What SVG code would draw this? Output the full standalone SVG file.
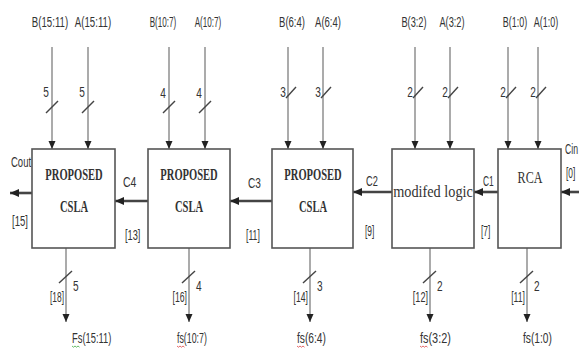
<svg xmlns="http://www.w3.org/2000/svg" width="579" height="354" viewBox="0 0 579 354">
<defs>
<marker id="ah" markerUnits="userSpaceOnUse" markerWidth="8" markerHeight="8" viewBox="0 0 8 8" refX="8" refY="4" orient="auto"><path d="M0,0.5 L8,4 L0,7.5 Z" fill="#222"/></marker>
<marker id="ahb" markerUnits="userSpaceOnUse" markerWidth="9" markerHeight="9" viewBox="0 0 9 9" refX="9" refY="4.5" orient="auto"><path d="M0,0.5 L9,4.5 L0,8.5 Z" fill="#222"/></marker>
</defs>
<style>
.box{fill:#fff;stroke:#555;stroke-width:1.6}
.in{stroke:#666;stroke-width:1.1;fill:none;marker-end:url(#ah)}
.out{stroke:#666;stroke-width:1.1;fill:none;marker-end:url(#ah)}
.sl{stroke:#444;stroke-width:1.4;fill:none}
.car{stroke:#444;stroke-width:2.6;fill:none;marker-end:url(#ahb)}
.lb{font-family:"Liberation Sans",Arial,sans-serif;font-size:14px;fill:#333}
.bt{font-family:"Liberation Serif","Times New Roman",serif;font-size:17px;font-weight:bold;fill:#333;text-anchor:middle}
.bn{font-family:"Liberation Serif","Times New Roman",serif;font-size:17px;fill:#333;text-anchor:middle}
.m{text-anchor:middle}
.e{text-anchor:end}
.sq{fill:none;stroke-width:0.8}
</style>
<rect width="579" height="354" fill="#fff"/>
<g id="connectors">
<line class="in" x1="52" y1="47" x2="52" y2="149"/>
<line class="in" x1="88" y1="47" x2="88" y2="149"/>
<line class="in" x1="169" y1="47" x2="169" y2="149"/>
<line class="in" x1="205" y1="47" x2="205" y2="149"/>
<line class="in" x1="288" y1="47" x2="288" y2="149"/>
<line class="in" x1="323" y1="47" x2="323" y2="149"/>
<line class="in" x1="415" y1="47" x2="415" y2="149"/>
<line class="in" x1="450" y1="47" x2="450" y2="149"/>
<line class="in" x1="508" y1="47" x2="508" y2="149"/>
<line class="in" x1="538" y1="47" x2="538" y2="149"/>
<line class="sl" x1="46" y1="113" x2="58" y2="101"/>
<line class="sl" x1="82" y1="113" x2="94" y2="101"/>
<line class="sl" x1="163" y1="113" x2="175" y2="101"/>
<line class="sl" x1="199" y1="113" x2="211" y2="101"/>
<line class="sl" x1="286" y1="98" x2="296" y2="87"/>
<line class="sl" x1="321" y1="98" x2="331" y2="87"/>
<line class="sl" x1="413" y1="98" x2="423" y2="87"/>
<line class="sl" x1="448" y1="98" x2="458" y2="87"/>
<line class="sl" x1="506" y1="98" x2="516" y2="87"/>
<line class="sl" x1="536" y1="98" x2="546" y2="87"/>
<line class="out" x1="66" y1="248" x2="66" y2="322"/>
<line class="out" x1="189" y1="248" x2="189" y2="322"/>
<line class="out" x1="310" y1="248" x2="310" y2="322"/>
<line class="out" x1="430" y1="248" x2="430" y2="322"/>
<line class="out" x1="527" y1="248" x2="527" y2="322"/>
<line class="sl" x1="59" y1="283" x2="72" y2="271"/>
<line class="sl" x1="182" y1="283" x2="195" y2="271"/>
<line class="sl" x1="303" y1="283" x2="316" y2="271"/>
<line class="sl" x1="423" y1="283" x2="436" y2="271"/>
<line class="sl" x1="520" y1="283" x2="533" y2="271"/>
<line class="car" x1="32" y1="193" x2="10" y2="193"/>
<line class="car" x1="148" y1="201" x2="115" y2="201"/>
<line class="car" x1="272" y1="201" x2="230" y2="201"/>
<line class="car" x1="392" y1="192" x2="353" y2="192"/>
<line class="car" x1="498" y1="192" x2="474" y2="192"/>
<line class="car" x1="581" y1="192" x2="561" y2="192"/>
</g>
<g id="labels">
<text class="lb m" transform="translate(50,27) scale(0.69,1)">B(15:11)</text>
<text class="lb m" transform="translate(93,27) scale(0.69,1)">A(15:11)</text>
<text class="lb m" transform="translate(163,27) scale(0.58,1)">B(10:7)</text>
<text class="lb m" transform="translate(208,27) scale(0.58,1)">A(10:7)</text>
<text class="lb m" transform="translate(292,27) scale(0.68,1)">B(6:4)</text>
<text class="lb m" transform="translate(328,27) scale(0.68,1)">A(6:4)</text>
<text class="lb m" transform="translate(414,27) scale(0.66,1)">B(3:2)</text>
<text class="lb m" transform="translate(452,27) scale(0.66,1)">A(3:2)</text>
<text class="lb m" transform="translate(515,27) scale(0.64,1)">B(1:0)</text>
<text class="lb m" transform="translate(546,27) scale(0.64,1)">A(1:0)</text>
<text class="lb m" transform="translate(46,97) scale(0.72,1)">5</text>
<text class="lb m" transform="translate(82,97) scale(0.72,1)">5</text>
<text class="lb m" transform="translate(163,98) scale(0.72,1)">4</text>
<text class="lb m" transform="translate(199,98) scale(0.72,1)">4</text>
<text class="lb m" transform="translate(283,97) scale(0.72,1)">3</text>
<text class="lb m" transform="translate(318,97) scale(0.72,1)">3</text>
<text class="lb m" transform="translate(410,97) scale(0.72,1)">2</text>
<text class="lb m" transform="translate(445,97) scale(0.72,1)">2</text>
<text class="lb m" transform="translate(503,97) scale(0.72,1)">2</text>
<text class="lb m" transform="translate(533,97) scale(0.72,1)">2</text>
<text class="lb" transform="translate(11,167) scale(0.68,1)">Cout</text>
<text class="lb" transform="translate(12,226) scale(0.68,1)">[15]</text>
<text class="lb" transform="translate(123,187) scale(0.75,1)">C4</text>
<text class="lb" transform="translate(125,240) scale(0.66,1)">[13]</text>
<text class="lb" transform="translate(248,188) scale(0.72,1)">C3</text>
<text class="lb" transform="translate(246,240) scale(0.62,1)">[11]</text>
<text class="lb" transform="translate(366,186) scale(0.66,1)">C2</text>
<text class="lb" transform="translate(365,236) scale(0.6,1)">[9]</text>
<text class="lb" transform="translate(483,186) scale(0.6,1)">C1</text>
<text class="lb" transform="translate(481,236) scale(0.6,1)">[7]</text>
<text class="lb" transform="translate(565,154) scale(0.62,1)">Cin</text>
<text class="lb" transform="translate(566,178) scale(0.6,1)">[0]</text>
<text class="lb" transform="translate(73,291) scale(0.72,1)">5</text>
<text class="lb" transform="translate(196,291) scale(0.72,1)">4</text>
<text class="lb" transform="translate(317,291) scale(0.72,1)">3</text>
<text class="lb" transform="translate(437,291) scale(0.72,1)">2</text>
<text class="lb" transform="translate(534,291) scale(0.72,1)">2</text>
<text class="lb e" transform="translate(64,302) scale(0.6,1)">[18]</text>
<text class="lb e" transform="translate(187,302) scale(0.62,1)">[16]</text>
<text class="lb e" transform="translate(308,302) scale(0.62,1)">[14]</text>
<text class="lb e" transform="translate(428,302) scale(0.65,1)">[12]</text>
<text class="lb e" transform="translate(525,302) scale(0.62,1)">[11]</text>
<text class="lb" transform="translate(72,343) scale(0.67,1)">Fs(15:11)</text>
<text class="lb" transform="translate(177,343) scale(0.63,1)">fs(10:7)</text>
<text class="lb" transform="translate(297,343) scale(0.73,1)">fs(6:4)</text>
<text class="lb" transform="translate(420,343) scale(0.78,1)">fs(3:2)</text>
<text class="lb" transform="translate(523,343) scale(0.73,1)">fs(1:0)</text>
<path class="sq" stroke="#4a4" d="M72,346 l1.5,1.2 l1.5,-1.2 l1.5,1.2 l1.5,-1.2 l1.5,1.2"/>
<path class="sq" stroke="#d44" d="M177,346 l1.5,1.2 l1.5,-1.2 l1.5,1.2 l1.5,-1.2 l1.5,1.2"/>
<path class="sq" stroke="#d44" d="M297,346 l1.5,1.2 l1.5,-1.2 l1.5,1.2 l1.5,-1.2 l1.5,1.2"/>
<path class="sq" stroke="#d44" d="M420,346 l1.5,1.2 l1.5,-1.2 l1.5,1.2 l1.5,-1.2 l1.5,1.2"/>
</g>
<g id="node-csla-15-11">
<rect class="box" x="32" y="149" width="83" height="99"/>
<text class="bt" transform="translate(74,180) scale(0.62,1)">PROPOSED</text>
<text class="bt" transform="translate(74,212) scale(0.62,1)">CSLA</text>
</g>
<g id="node-csla-10-7">
<rect class="box" x="148" y="149" width="82" height="99"/>
<text class="bt" transform="translate(189,180) scale(0.62,1)">PROPOSED</text>
<text class="bt" transform="translate(189,212) scale(0.62,1)">CSLA</text>
</g>
<g id="node-csla-6-4">
<rect class="box" x="272" y="149" width="81" height="99"/>
<text class="bt" transform="translate(313,180) scale(0.62,1)">PROPOSED</text>
<text class="bt" transform="translate(313,212) scale(0.62,1)">CSLA</text>
</g>
<g id="node-modified">
<rect class="box" x="392" y="149" width="82" height="99"/>
<text class="bn" transform="translate(433,197) scale(0.84,1)">modifed logic</text>
</g>
<g id="node-rca">
<rect class="box" x="498" y="149" width="63" height="99"/>
<text class="bn" transform="translate(530,183) scale(0.71,1)">RCA</text>
</g>
</svg>
